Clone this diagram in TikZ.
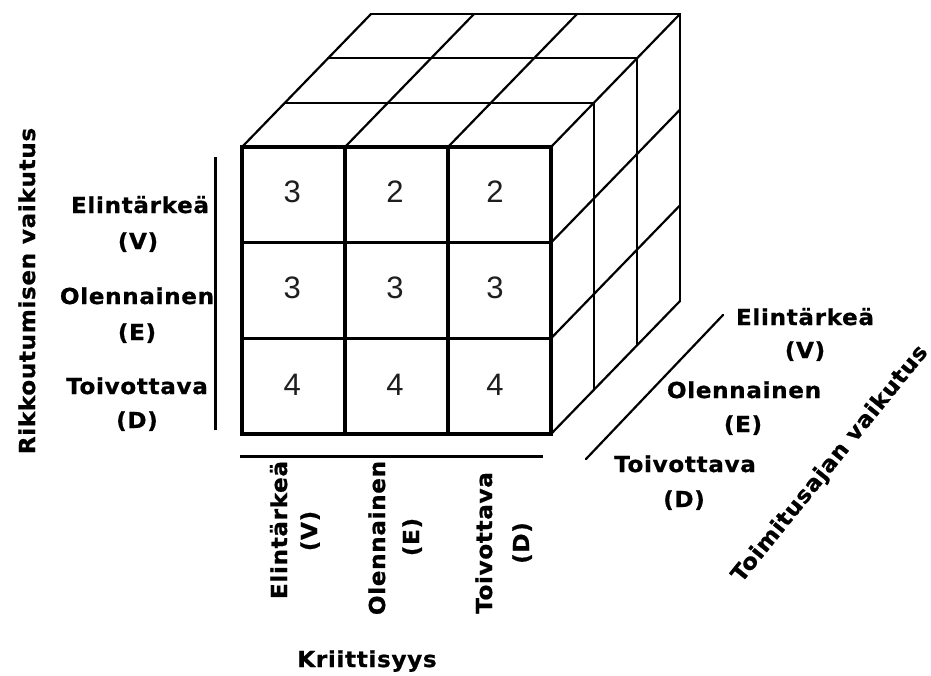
\documentclass[tikz,border=0pt]{standalone}
\usepackage{fontspec}
\setmainfont{DejaVu Sans}
\newfontfamily\lblfont{DejaVu Sans Bold}[LetterSpace=3, FakeStretch=1.05, FakeBold=0.8]
\newfontfamily\axfont{DejaVu Sans Bold}[LetterSpace=3, FakeStretch=1.05, FakeBold=0.8]
\newfontfamily\numfont{Liberation Sans}
\definecolor{numgray}{HTML}{1E1E1E}
\tikzset{
  frontline/.style={line width=3.2pt, line cap=rect, line join=miter},
  sideline/.style={line width=2.2pt, line cap=round, line join=round},
  axisline/.style={line width=3pt},
  lbl/.style={font=\lblfont\fontsize{22}{26}\selectfont, inner sep=0pt, anchor=base},
  axistitle/.style={font=\axfont\fontsize{22}{26}\selectfont, inner sep=0pt, anchor=base},
  num/.style={font=\numfont\fontsize{31}{36}\selectfont, text=numgray, inner sep=0pt, anchor=center}
}
\begin{document}
\begin{tikzpicture}[x=1pt,y=-1pt]
\useasboundingbox (0,0) rectangle (931,675);
\fill[white] (0,0) rectangle (931,675);
% top face
\foreach \i in {0,1,2,3}
  \draw[sideline] ({242+103*\i},147) -- ({242+103*\i+129},{147-133});
\foreach \k in {1,2,3}
  \draw[sideline] ({242+43*\k},{147-44.33*\k}) -- ({551+43*\k},{147-44.33*\k});
% right face
\foreach \k in {1,2,3}
  \draw[sideline] ({551+43*\k},{147-44.33*\k}) -- ({551+43*\k},{434-44.33*\k});
\foreach \j in {1,2,3}
  \draw[sideline] (551,{147+95.67*\j}) -- (680,{147+95.67*\j-133});
% front face
\draw[frontline] (242,147) rectangle (551,434);
\foreach \i in {1,2}
  \draw[frontline] ({242+103*\i},147) -- ({242+103*\i},434);
\foreach \j in {1,2}
  \draw[frontline] (242,{147+95.67*\j}) -- (551,{147+95.67*\j});
% numbers
\node[num] (n11) at (292.3,191.7) {3};
\node[num] (n12) at (395,191.7) {2};
\node[num] (n13) at (495,191.7) {2};
\node[num] (n21) at (292.3,288.3) {3};
\node[num] (n22) at (395,288.3) {3};
\node[num] (n23) at (495,288.3) {3};
\node[num] (n31) at (292.3,385) {4};
\node[num] (n32) at (395,385) {4};
\node[num] (n33) at (495,385) {4};
% axis lines
\coordinate (lbt) at (215,157);
\coordinate (lbb) at (215,430);
\draw[axisline] (lbt) -- (lbb);
\coordinate (bl) at (240,456);
\coordinate (br) at (543,456);
\draw[axisline] (bl) -- (br);
\coordinate (rt) at (723,315);
\coordinate (rb) at (586,459);
\draw[sideline] (rt) -- (rb);
% left labels
\node[lbl] (lv1) at (140,213) {Elintärkeä};
\node[lbl] (lv2) at (138,249) {(V)};
\node[lbl] (le1) at (137,304) {Olennainen};
\node[lbl] (le2) at (137,340) {(E)};
\node[lbl] (ld1) at (137,394) {Toivottava};
\node[lbl] (ld2) at (137,428) {(D)};
\node[axistitle, rotate=90] (lt) at (35,291) {Rikkoutumisen vaikutus};
% bottom labels
\node[lbl, rotate=90] (bv1) at (287,530) {Elintärkeä};
\node[lbl, rotate=90] (bv2) at (317,531) {(V)};
\node[lbl, rotate=90] (be1) at (385,538) {Olennainen};
\node[lbl, rotate=90] (be2) at (419,537) {(E)};
\node[lbl, rotate=90] (bd1) at (492,543) {Toivottava};
\node[lbl, rotate=90] (bd2) at (529,543) {(D)};
\node[axistitle] (bt) at (367,667) {Kriittisyys};
% right labels
\node[lbl] (rv1) at (805,325) {Elintärkeä};
\node[lbl] (rv2) at (805,358) {(V)};
\node[lbl] (re1) at (744,398) {Olennainen};
\node[lbl] (re2) at (743,432) {(E)};
\node[lbl] (rd1) at (685,472) {Toivottava};
\node[lbl] (rd2) at (684,507) {(D)};
\node[axistitle, rotate=51] (rtt) at (835,468) {Toimitusajan vaikutus};
\end{tikzpicture}
\end{document}
